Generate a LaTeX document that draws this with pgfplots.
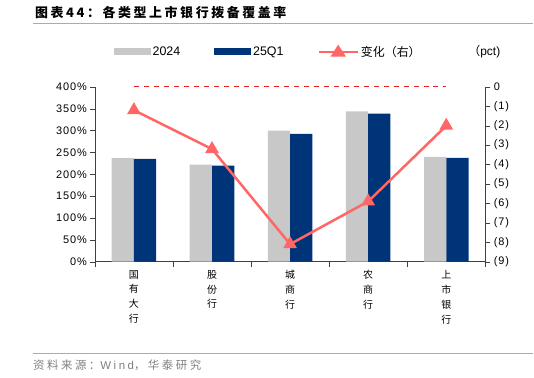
\documentclass[border=0pt]{standalone}
\usepackage{fontspec}
\setmainfont{Liberation Sans}
\newfontfamily\spaced[LetterSpace=8]{Liberation Sans}
\newfontfamily\cjk{Noto Sans CJK SC}
\newfontfamily\cjksp[LetterSpace=22]{Noto Sans CJK SC}
\newfontfamily\spsrc[LetterSpace=22]{Liberation Sans}
\newfontfamily\cjktitle[LetterSpace=20]{Noto Sans CJK SC}
\usepackage{pgfplots}
\pgfplotsset{compat=1.18}
\definecolor{barGray}{RGB}{200,200,200}
\definecolor{barBlue}{RGB}{0,52,120}
\definecolor{lineRed}{RGB}{255,102,102}
\definecolor{dashRed}{RGB}{225,30,30}
\definecolor{ruleBlue}{RGB}{150,175,205}
\definecolor{srcGray}{RGB}{128,128,128}
\begin{document}
\begin{tikzpicture}
\path (0bp,0bp) rectangle (534bp,-378bp);
\node[anchor=west, inner sep=0pt] at (35bp,-13bp) {\cjktitle\bfseries\fontsize{13}{15}\selectfont 图表44：各类型上市银行拨备覆盖率};
\draw[ruleBlue, line width=1.5bp] (33bp,-23.5bp) -- (534bp,-23.5bp);
\draw[ruleBlue, line width=1.5bp] (33bp,-354bp) -- (534bp,-354bp);
\node[anchor=west, inner sep=0pt, text=srcGray] at (33bp,-366bp) {\fontsize{11.5}{13}\selectfont\cjksp 资料来源：{\spsrc Wind}，华泰研究};
\node[anchor=center, inner sep=0pt] at (485bp,-52bp) {\fontsize{12}{14}\selectfont{\cjk（}pct)};

\begin{axis}[
  at={(95bp,-262bp)}, anchor=south west,
  scale only axis, width=391bp, height=175bp,
  xmin=-0.5, xmax=4.5, ymin=0, ymax=400,
  axis y line*=left, axis x line*=bottom,
  axis line style={black!75}, tick style={black!75},
  tick align=outside, major tick length=5bp,
  ytick={0,50,...,400},
  yticklabels={0\%,50\%,100\%,150\%,200\%,250\%,300\%,350\%,400\%},
  yticklabel style={font=\spaced\fontsize{11}{12}\selectfont, xshift=0.5bp},
  xtick={-0.5,0.5,1.5,2.5,3.5,4.5},
  x tick label as interval,
  xticklabels={{国\\有\\大\\行},{股\\份\\行},{城\\商\\行},{农\\商\\行},{上\\市\\银\\行}},
  xticklabel style={align=center, anchor=north, font=\cjk\fontsize{10}{15}\selectfont},
  ybar=0pt, bar width=22.3bp,
  legend columns=-1,
  legend style={at={(0.04,1.2)}, anchor=west, draw=none, fill=none,
    font=\fontsize{12.5}{14}\selectfont,
    /tikz/every even column/.append style={column sep=32bp}},
]
\addplot[fill=barGray, draw=none,
  legend image code/.code={\fill[barGray] (0bp,-3.5bp) rectangle (37bp,3.5bp);}]
  coordinates {(0,237) (1,222) (2,300) (3,344) (4,240)};
\addlegendentry{2024}
\addplot[fill=barBlue, draw=none,
  legend image code/.code={\fill[barBlue] (0bp,-3.5bp) rectangle (37bp,3.5bp);}]
  coordinates {(0,235.5) (1,219.5) (2,292.5) (3,339) (4,237.5)};
\addlegendentry{25Q1}
\addlegendimage{lineRed, line width=2.5bp, mark=triangle*, mark size=5bp,
  legend image code/.code={\draw[lineRed, line width=2.5bp] (0bp,0bp) -- (39bp,0bp);
    \fill[lineRed] (19.5bp,5bp) -- (14bp,-3.5bp) -- (25bp,-3.5bp) -- cycle;}}
\addlegendentry{\cjk\fontsize{12}{14}\selectfont 变化（右）}
\end{axis}

\begin{axis}[
  at={(95bp,-262bp)}, anchor=south west,
  scale only axis, width=391bp, height=175bp,
  xmin=-0.5, xmax=4.5, ymin=-9, ymax=0,
  axis y line*=right, axis x line=none,
  axis line style={black!75}, tick style={black!75},
  tick align=outside, major tick length=5bp,
  ytick={-9,-8,...,0},
  yticklabels={(9),(8),(7),(6),(5),(4),(3),(2),(1),0},
  yticklabel style={font=\spaced\fontsize{11}{12}\selectfont},
  clip=false,
]
\addplot[dashRed, line width=1bp, dash pattern=on 5bp off 5bp, forget plot]
  coordinates {(0,0) (4,0)};
\addplot[lineRed, line width=2.5bp, mark=triangle*, mark size=5.5bp]
  coordinates {(0,-1.2) (1,-3.2) (2,-8.1) (3,-5.9) (4,-2.0)};
\end{axis}
\end{tikzpicture}
\end{document}
